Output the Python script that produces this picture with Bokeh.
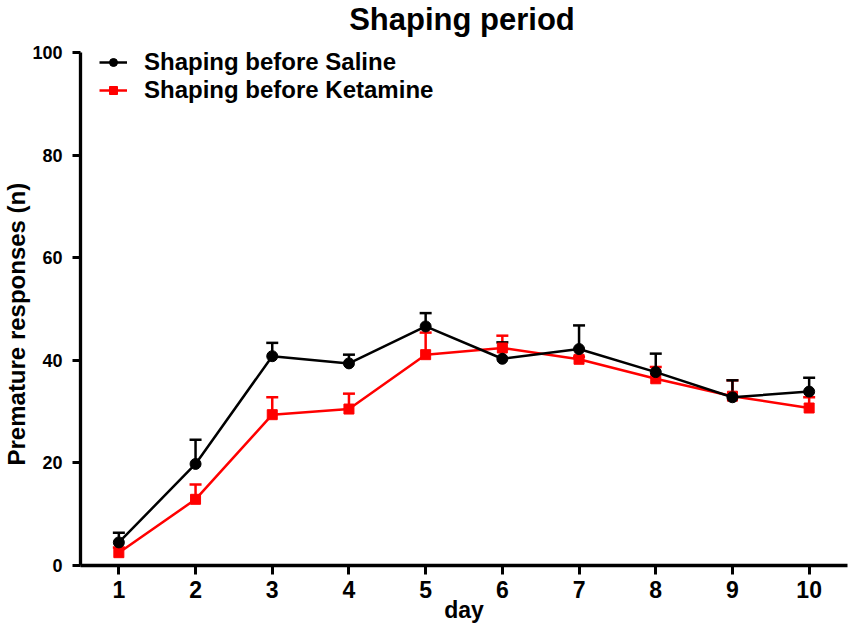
from bokeh.plotting import figure
from bokeh.models import ColumnDataSource, Whisker, TeeHead, Legend, LegendItem, FixedTicker, Range1d, Label, Title
from bokeh.embed import file_html
from bokeh.resources import INLINE

days = [1, 2, 3, 4, 5, 6, 7, 8, 9, 10]
saline_mean = [4.5, 19.8, 40.8, 39.4, 46.6, 40.3, 42.2, 37.7, 32.8, 33.9]
saline_sem = [1.9, 4.7, 2.6, 1.7, 2.6, 3.2, 4.6, 3.6, 3.3, 2.7]
ketamine_mean = [2.5, 12.9, 29.4, 30.5, 41.1, 42.4, 40.2, 36.4, 33.0, 30.7]
ketamine_sem = [1.0, 2.9, 3.4, 3.0, 4.3, 2.4, 0.5, 2.3, 3.1, 2.1]
y_ticks = [0, 20, 40, 60, 80, 100]
series_names = ["Shaping before Saline", "Shaping before Ketamine"]
title_text = "Shaping period"
x_label = "day"
y_label = "Premature responses (n)"

FONT = "Liberation Sans"

# frame spans the full top of the canvas; the y axis itself is bounded to 0..100
p = figure(width=848, height=626, output_backend="svg", toolbar_location=None,
           x_range=Range1d(0.5, 10.5), y_range=Range1d(0, 110.14),
           min_border_left=77, min_border_right=1, min_border_top=0, min_border_bottom=61)
p.outline_line_color = None
p.grid.visible = False
p.background_fill_color = "white"
p.border_fill_color = "white"

p.add_layout(Label(x=5.5, y=100, x_offset=-2, y_offset=33, text=title_text,
                   text_align="center", text_baseline="alphabetic",
                   text_font=FONT, text_font_size="31px", text_font_style="bold",
                   text_color="black"))

def src(mean, sem):
    return ColumnDataSource(dict(x=days, y=mean, upper=[m + s for m, s in zip(mean, sem)]))

ks = src(ketamine_mean, ketamine_sem)
ss = src(saline_mean, saline_sem)

red = "#ff0000"
for s, c in ((ks, red), (ss, "black")):
    w = Whisker(source=s, base="x", lower="y", upper="upper", dimension="height",
                line_color=c, line_width=2.5,
                upper_head=TeeHead(size=12, line_color=c, line_width=2.5), lower_head=None)
    p.add_layout(w)

kl = p.line("x", "y", source=ks, line_color=red, line_width=2.5)
km = p.scatter("x", "y", source=ks, marker="square", size=10, fill_color=red, line_color=red)
sl = p.line("x", "y", source=ss, line_color="black", line_width=2.5)
sm = p.scatter("x", "y", source=ss, marker="circle", size=11, fill_color="black", line_color="black")

legend = Legend(items=[LegendItem(label=series_names[0], renderers=[sl, sm]),
                       LegendItem(label=series_names[1], renderers=[kl, km])],
                location=(19, 461), padding=0, margin=0, spacing=0,
                glyph_width=28, glyph_height=20, label_height=28, label_standoff=17,
                label_text_font=FONT, label_text_font_size="24px", label_text_font_style="bold",
                label_text_color="black",
                border_line_color=None, background_fill_alpha=0)
p.add_layout(legend, "center")

for ax in (p.xaxis[0], p.yaxis[0]):
    ax.axis_line_width = 3.3
    ax.axis_line_color = "black"
    ax.major_tick_line_width = 3
    ax.major_tick_line_color = "black"
    ax.major_tick_in = 0
    ax.minor_tick_line_color = None
    ax.major_label_text_font = FONT
    ax.major_label_text_font_style = "bold"
    ax.major_label_text_color = "black"
    ax.axis_label_text_font = FONT
    ax.axis_label_text_font_style = "bold"
    ax.axis_label_text_color = "black"

p.xaxis.ticker = FixedTicker(ticks=days)
p.xaxis.major_tick_out = 9
p.xaxis.major_label_standoff = 6
p.xaxis.major_label_text_font_size = "23px"
p.xaxis.axis_label = x_label
p.xaxis.axis_label_text_font_size = "23px"
p.xaxis.axis_label_standoff = -4

p.yaxis.ticker = FixedTicker(ticks=y_ticks)
p.yaxis.bounds = (0, 100)
p.yaxis.major_tick_out = 8
p.yaxis.major_label_standoff = 10
p.yaxis.major_label_text_font_size = "18px"

# y axis title placed as a side title so it can sit lower than the frame centre
p.add_layout(Title(text=y_label, align="left", offset=100, standoff=0,
                   text_font=FONT, text_font_size="24px", text_font_style="bold",
                   text_color="black"), "left")

open("out.html", "w").write(file_html(p, INLINE))
